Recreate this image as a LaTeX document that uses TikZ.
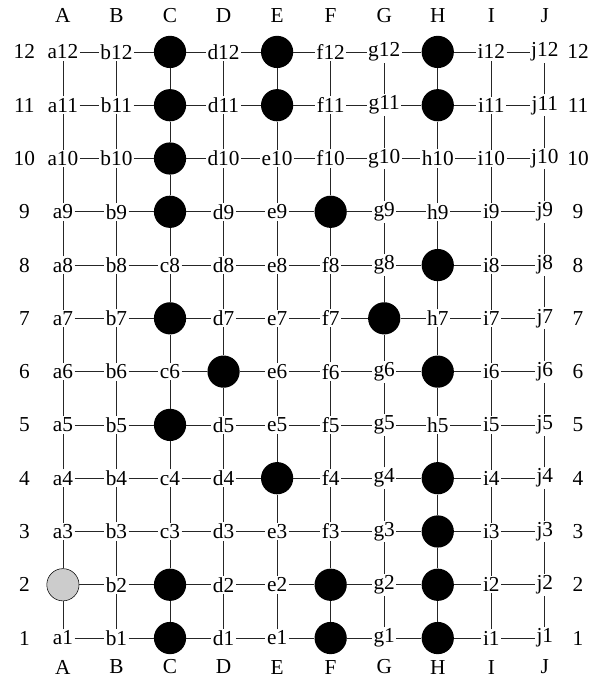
\documentclass[tikz,border=0pt]{standalone}
\usepackage{fontspec}
\setmainfont{Liberation Serif}

% occupied points of the board
\foreach \s in {c12,e12,h12,c11,e11,h11,c10,c9,f9,h8,c7,g7,d6,h6,c5,e4,h4,h3,c2,f2,h2,c1,f1,h1} {
  \expandafter\gdef\csname bk\s\endcsname{}
}
\expandafter\gdef\csname gya2\endcsname{}

\begin{document}
\begin{tikzpicture}[x=40.2pt,y=40pt]
    % Styles for points and lines
    \tikzset{
      cell/.style={inner sep=1pt, font=\fontsize{16}{18}\selectfont},
      stone/.style={circle, fill=black, minimum size=24.2pt, inner sep=0pt},
      vacant/.style={circle, draw=black, fill=black!20, minimum size=24.2pt, inner sep=0pt},
      tag/.style={font=\fontsize{16}{18}\selectfont},
      link/.style={line width=0.6pt, draw=black!85}
    }
    \useasboundingbox (-1.175,-0.7875) rectangle (9.83,11.975);

    % Points of the grid
    \foreach \l [count=\i from 0] in {a,...,j} {
      \foreach \r in {1,...,12} {
        \ifcsname bk\l\r\endcsname
          \node[stone] (\l\r) at (\i,\r-1) {};
        \else\ifcsname gy\l\r\endcsname
          \node[vacant] (\l\r) at (\i,\r-1) {};
        \else
          \node[cell] (\l\r) at (\i,\r-1) {\l\r};
        \fi\fi
      }
    }

    % Column and row labels
    \foreach \l [count=\i from 0] in {A,...,J} {
      \node[tag] (top\l) at (\i,11.69) {\l};
      \node[tag] (bot\l) at (\i,-0.544) {\l};
    }
    \foreach \r in {1,...,12} {
      \node[tag] (left\r) at (-0.72,\r-1) {\r};
      \node[tag] (right\r) at (9.62,\r-1) {\r};
    }

    % Lines between neighbours
    \foreach \l/\m in {a/b,b/c,c/d,d/e,e/f,f/g,g/h,h/i,i/j} {
      \foreach \r in {1,...,12} {
        \draw[link] (\l\r) -- (\m\r);
      }
    }
    \foreach \l in {a,...,j} {
      \foreach \r [count=\s from 2] in {1,...,11} {
        \draw[link] (\l\r) -- (\l\s);
      }
    }

\end{tikzpicture}
\end{document}
